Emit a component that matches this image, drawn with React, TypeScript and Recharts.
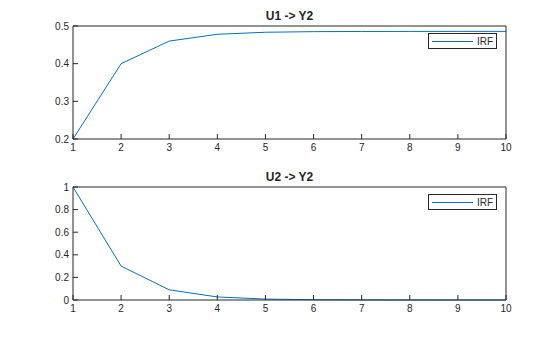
import React from "react";
import { LineChart, Line, XAxis, YAxis, Legend } from "recharts";

const steps = [1, 2, 3, 4, 5, 6, 7, 8, 9, 10];
const u1y2 = [0.2, 0.4, 0.46, 0.478, 0.4834, 0.485, 0.4855, 0.4856, 0.4857, 0.4857];
const u2y2 = [1, 0.3, 0.09, 0.027, 0.0081, 0.0024, 0.0007, 0.0002, 0.0001, 0.0];
const xTicks = [1, 2, 3, 4, 5, 6, 7, 8, 9, 10];
const topYTicks = [0.2, 0.3, 0.4, 0.5];
const bottomYTicks = [0, 0.2, 0.4, 0.6, 0.8, 1];

const FONT = "'Liberation Sans', Arial, sans-serif";
const AXIS = "#262626";
const BLUE = "#0072BD";

const topData = steps.map((t, i) => ({ t, irf: u1y2[i] }));
const bottomData = steps.map((t, i) => ({ t, irf: u2y2[i] }));

const IrfLegend = () => (
  <div
    style={{
      display: "flex",
      alignItems: "center",
      border: `1px solid ${AXIS}`,
      background: "white",
      width: 69,
      height: 16,
      boxSizing: "border-box",
      fontFamily: FONT,
      fontSize: 10,
      color: AXIS,
    }}
  >
    <svg width={48} height={14} style={{ display: "block" }}>
      <line x1={3} x2={44} y1={7.5} y2={7.5} stroke={BLUE} strokeWidth={1} />
    </svg>
    <span>IRF</span>
  </div>
);

type PanelProps = {
  title: string;
  data: { t: number; irf: number }[];
  yTicks: number[];
  yDomain: [number, number];
  fmt: (v: number) => string;
  top: number;
  height: number;
  marginTop: number;
  marginBottom: number;
};

const Panel = ({ title, data, yTicks, yDomain, fmt, top, height, marginTop, marginBottom }: PanelProps) => (
  <div style={{ position: "absolute", left: 0, top, width: 560, height }}>
    <div
      style={{
        position: "absolute",
        left: 73,
        width: 433,
        top: marginTop - 16,
        textAlign: "center",
        fontFamily: FONT,
        fontWeight: "bold",
        fontSize: 12,
        color: AXIS,
        lineHeight: "13px",
      }}
    >
      {title}
    </div>
    <LineChart
      width={560}
      height={height}
      data={data}
      margin={{ top: marginTop - 1, right: 53, left: 33, bottom: marginBottom }}
    >
      <XAxis
        dataKey="t"
        type="number"
        domain={[1, 10]}
        ticks={xTicks}
        stroke={AXIS}
        tickSize={-5}
        tickMargin={10}
        height={20}
        tick={{ fill: AXIS, fontSize: 10, fontFamily: FONT }}
      />
      <XAxis
        xAxisId="top"
        dataKey="t"
        type="number"
        orientation="top"
        domain={[1, 10]}
        ticks={xTicks}
        stroke={AXIS}
        tickSize={-5}
        tick={false}
        height={1}
      />
      <YAxis
        type="number"
        domain={yDomain}
        ticks={yTicks}
        stroke={AXIS}
        tickSize={-5}
        tickMargin={9}
        width={40}
        tickFormatter={fmt}
        tick={{ fill: AXIS, fontSize: 10, fontFamily: FONT }}
      />
      <YAxis
        yAxisId="right"
        orientation="right"
        type="number"
        domain={yDomain}
        ticks={yTicks}
        stroke={AXIS}
        tickSize={-5}
        tick={false}
        width={1}
      />
      <Legend
        layout="vertical"
        align="center"
        verticalAlign="middle"
        content={() => <IrfLegend />}
        wrapperStyle={{ position: "absolute", left: 428, top: marginTop + 7, width: "auto" }}
      />
      <Line
        type="linear"
        dataKey="irf"
        name="IRF"
        stroke={BLUE}
        strokeWidth={1}
        dot={false}
        isAnimationActive={false}
      />
    </LineChart>
  </div>
);

const App = () => (
  <div style={{ position: "absolute", left: 0, top: 0, width: 560, height: 337, background: "white" }}>
    <Panel
      title="U1 -> Y2"
      data={topData}
      yTicks={topYTicks}
      yDomain={[0.2, 0.5]}
      fmt={(v) => v.toFixed(1)}
      top={0}
      height={168}
      marginTop={26}
      marginBottom={9}
    />
    <Panel
      title="U2 -> Y2"
      data={bottomData}
      yTicks={bottomYTicks}
      yDomain={[0, 1]}
      fmt={(v) => (v === 0 || v === 1 ? String(v) : v.toFixed(1))}
      top={168}
      height={169}
      marginTop={19}
      marginBottom={17}
    />
  </div>
);

export default App;
